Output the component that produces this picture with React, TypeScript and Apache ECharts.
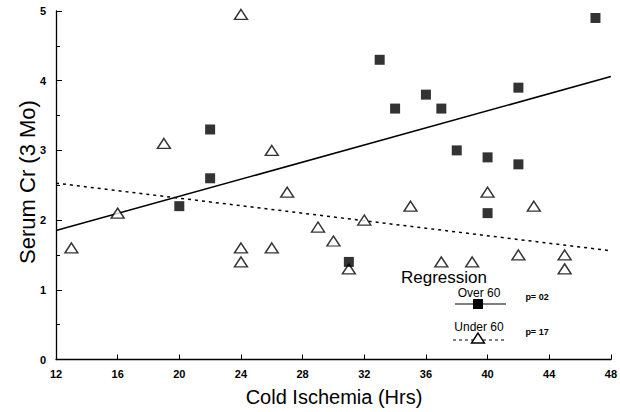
import React, { useEffect, useRef } from "react";
import * as echarts from "echarts";

const xTicks = [12, 16, 20, 24, 28, 32, 36, 40, 44, 48];
const over60X = [20, 22, 22, 31, 33, 34, 36, 37, 38, 40, 40, 42, 42, 47];
const over60Y = [2.2, 3.3, 2.6, 1.4, 4.3, 3.6, 3.8, 3.6, 3.0, 2.9, 2.1, 3.9, 2.8, 4.9];
const under60X = [13, 16, 19, 24, 24, 24, 26, 26, 27, 29, 30, 31, 32, 35, 37, 39, 40, 42, 43, 45, 45];
const under60Y = [1.6, 2.1, 3.1, 4.95, 1.6, 1.4, 3.0, 1.6, 2.4, 1.9, 1.7, 1.3, 2.0, 2.2, 1.4, 1.4, 2.4, 1.5, 2.2, 1.5, 1.3];
const over60FitX = [12, 48];
const over60FitY = [1.85, 4.06];
const under60FitX = [12, 48];
const under60FitY = [2.53, 1.56];

const FONT = "'Liberation Sans', Arial, Helvetica, sans-serif";

export default function App() {
  const ref = useRef<HTMLDivElement>(null);
  useEffect(() => {
    document.body.style.margin = "0";
    const chart = echarts.init(ref.current!, undefined, { renderer: "svg" });
    const zip = (xs: number[], ys: number[]) => xs.map((x, i) => [x, ys[i]]);
    chart.setOption({
      animation: false,
      backgroundColor: "#ffffff",
      textStyle: { fontFamily: FONT },
      grid: { left: 56, right: 8, top: 11, bottom: 52.5 },
      xAxis: {
        type: "value",
        min: 12,
        max: 48,
        interval: 4,
        axisLine: { lineStyle: { color: "#000", width: 1.3 } },
        axisTick: { inside: true, length: 5, lineStyle: { color: "#000" } },
        axisLabel: {
          color: "#000",
          fontWeight: "bold",
          fontSize: 11,
          margin: 9,
          fontFamily: FONT,
          customValues: xTicks,
        },
        splitLine: { show: false },
      },
      yAxis: {
        type: "value",
        min: 0,
        max: 5,
        interval: 1,
        axisLine: { show: true, lineStyle: { color: "#000", width: 1.3 } },
        axisTick: { show: true, inside: true, length: 6, lineStyle: { color: "#000" } },
        minorTick: { show: true, splitNumber: 2, length: 4, lineStyle: { color: "#000" } },
        axisLabel: {
          color: "#000",
          fontWeight: "bold",
          fontSize: 11,
          margin: 10,
          fontFamily: FONT,
        },
        splitLine: { show: false },
      },
      series: [
        {
          type: "line",
          data: zip(under60FitX, under60FitY),
          showSymbol: false,
          lineStyle: { color: "#000", width: 1.5, type: [3, 4] },
          silent: true,
          z: 1,
        },
        {
          type: "line",
          data: zip(over60FitX, over60FitY),
          showSymbol: false,
          lineStyle: { color: "#000", width: 1.6 },
          silent: true,
          z: 1,
        },
        {
          name: "Under 60",
          type: "scatter",
          data: zip(under60X, under60Y),
          symbol: "triangle",
          symbolSize: [13, 10],
          itemStyle: { color: "#fff", borderColor: "#000", borderWidth: 1.4 },
          z: 2,
        },
        {
          name: "Over 60",
          type: "scatter",
          data: zip(over60X, over60Y),
          symbol: "rect",
          symbolSize: 10,
          itemStyle: { color: "#000" },
          z: 3,
        },
      ],
      graphic: [
        {
          type: "text",
          x: 27,
          y: 182,
          rotation: Math.PI / 2,
          style: {
            text: "Serum Cr (3 Mo)",
            font: `22px ${FONT}`,
            fill: "#000",
            align: "center",
            verticalAlign: "middle",
          },
        },
        {
          type: "text",
          x: 334,
          y: 397,
          style: {
            text: "Cold Ischemia (Hrs)",
            font: `20px ${FONT}`,
            fill: "#000",
            align: "center",
            verticalAlign: "middle",
          },
        },
        {
          type: "text",
          x: 444,
          y: 277,
          style: { text: "Regression", font: `17px ${FONT}`, fill: "#000", align: "center", verticalAlign: "middle" },
        },
        {
          type: "text",
          x: 479,
          y: 293,
          style: { text: "Over 60", font: `12px ${FONT}`, fill: "#000", align: "center", verticalAlign: "middle" },
        },
        {
          type: "line",
          shape: { x1: 455, y1: 304, x2: 506, y2: 304 },
          style: { stroke: "#000", lineWidth: 1 },
        },
        {
          type: "rect",
          shape: { x: 473, y: 299, width: 10, height: 10 },
          style: { fill: "#000" },
        },
        {
          type: "text",
          x: 537,
          y: 297,
          style: { text: "p= 02", font: `bold 9px ${FONT}`, fill: "#000", align: "center", verticalAlign: "middle" },
        },
        {
          type: "text",
          x: 479,
          y: 327,
          style: { text: "Under 60", font: `12px ${FONT}`, fill: "#000", align: "center", verticalAlign: "middle" },
        },
        {
          type: "line",
          shape: { x1: 453, y1: 340, x2: 506, y2: 340 },
          style: { stroke: "#000", lineWidth: 1, lineDash: [3, 3] },
        },
        {
          type: "polygon",
          shape: { points: [[478, 333], [471.5, 343], [484.5, 343]] },
          style: { fill: "#fff", stroke: "#000", lineWidth: 1.4 },
        },
        {
          type: "text",
          x: 537,
          y: 332,
          style: { text: "p= 17", font: `bold 9px ${FONT}`, fill: "#000", align: "center", verticalAlign: "middle" },
        },
      ],
    });
    return () => chart.dispose();
  }, []);
  return <div ref={ref} style={{ width: 620, height: 412 }} />;
}
